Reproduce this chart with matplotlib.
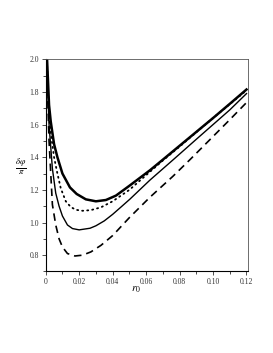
import numpy as np
import matplotlib.pyplot as plt

# Curve values (r0, delta phi / pi)
r_thick = [0.0006, 0.002, 0.003, 0.005, 0.007, 0.010, 0.0145, 0.0185, 0.024, 0.030,
           0.036, 0.042, 0.050, 0.0623, 0.070, 0.080, 0.090, 0.100, 0.110, 0.120]
v_thick = [2.05, 1.72, 1.62, 1.48, 1.40, 1.30, 1.215, 1.175, 1.142, 1.130,
           1.138, 1.165, 1.225, 1.32, 1.385, 1.47, 1.555, 1.64, 1.727, 1.815]

r_dot = [0.0005, 0.002, 0.003, 0.005, 0.007, 0.009, 0.012, 0.015, 0.018, 0.022,
         0.027, 0.033, 0.040, 0.050, 0.060, 0.070, 0.080, 0.090, 0.100, 0.110, 0.120]
v_dot = [2.05, 1.65, 1.55, 1.40, 1.30, 1.21, 1.13, 1.095, 1.078, 1.072,
         1.076, 1.093, 1.13, 1.20, 1.29, 1.38, 1.465, 1.553, 1.64, 1.725, 1.81]

r_thin = [0.0004, 0.002, 0.004, 0.006, 0.008, 0.010, 0.013, 0.016, 0.020, 0.0265,
          0.030, 0.035, 0.040, 0.045, 0.0503, 0.0623, 0.076, 0.090, 0.100, 0.110, 0.120]
v_thin = [2.05, 1.60, 1.33, 1.18, 1.10, 1.04, 0.985, 0.963, 0.955, 0.965,
          0.98, 1.01, 1.05, 1.095, 1.143, 1.26, 1.383, 1.51, 1.60, 1.69, 1.79]

r_dash = [0.0003, 0.002, 0.004, 0.006, 0.008, 0.010, 0.013, 0.0175, 0.022, 0.027,
          0.033, 0.040, 0.050, 0.0623, 0.076, 0.086, 0.100, 0.110, 0.120]
v_dash = [2.05, 1.50, 1.11, 0.985, 0.90, 0.85, 0.81, 0.795, 0.80, 0.82,
          0.86, 0.92, 1.03, 1.155, 1.283, 1.383, 1.527, 1.63, 1.735]

plt.rcParams['font.family'] = 'Liberation Serif'
plt.rcParams['mathtext.fontset'] = 'stix'

fig = plt.figure(figsize=(2.73, 3.53), dpi=100)
ax = fig.add_axes([0.1674, 0.2309, 0.7392, 0.6011])

ax.plot(r_thick, v_thick, color='black', linewidth=1.8)
ax.plot(r_dot, v_dot, color='black', linewidth=1.3, linestyle=(0, (0.6, 2.2)),
        dash_capstyle='round')
ax.plot(r_thin, v_thin, color='black', linewidth=1.0)
ax.plot(r_dash, v_dash, color='black', linewidth=1.2, linestyle=(0, (4.5, 3.0)))

ax.set_xlim(0, 0.1206)
ax.set_ylim(0.7, 2.0)
ax.set_xticks(np.arange(0, 0.121, 0.02))
ax.set_xticklabels(['0', '0.02', '0.04', '0.06', '0.08', '0.10', '0.12'])
ax.set_xticks(np.arange(0.01, 0.121, 0.02), minor=True)
ax.set_yticks(np.arange(0.8, 2.01, 0.2))
ax.set_yticklabels(['0.8', '1.0', '1.2', '1.4', '1.6', '1.8', '2.0'])
ax.set_yticks(np.arange(0.7, 2.0, 0.2), minor=True)
ax.tick_params(which='major', length=3, width=0.6, labelsize=5.5, pad=2,
               colors='#333333')
ax.tick_params(which='minor', length=2, width=0.5)

for side in ['top', 'right']:
    ax.spines[side].set_color('#555555')
    ax.spines[side].set_linewidth(0.6)
for side in ['left', 'bottom']:
    ax.spines[side].set_linewidth(0.8)

fig.text(0.077, 0.527, r'$\frac{\delta\varphi}{\pi}$', fontsize=9,
         ha='center', va='center')
fig.text(0.497, 0.178, r'$r_0$', fontsize=8, ha='center', va='center')

fig.savefig('out.png', dpi=100)
